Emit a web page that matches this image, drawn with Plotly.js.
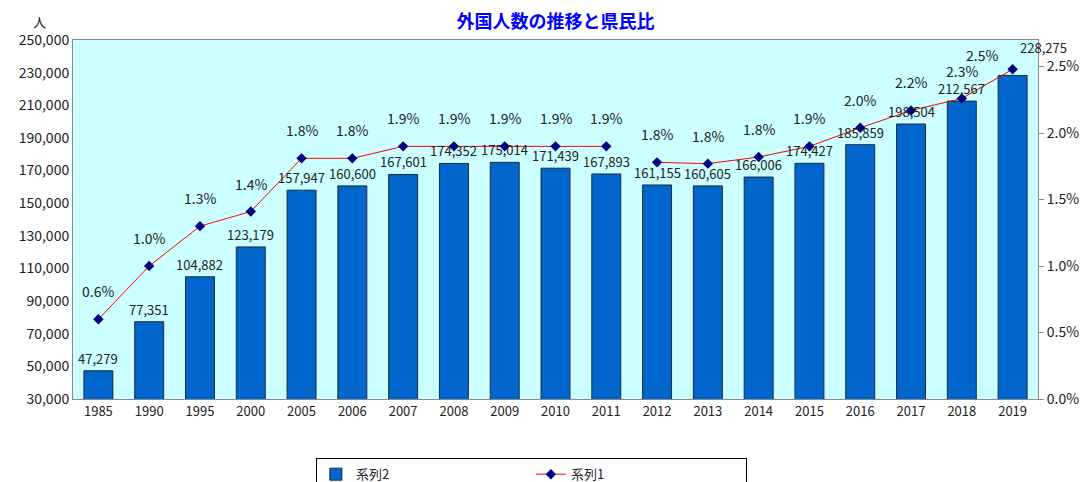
<!DOCTYPE html>
<html>
<head>
<meta charset="utf-8">
<script src="https://cdn.plot.ly/plotly-3.0.1.min.js"></script>
<style>html,body{margin:0;padding:0;background:#fff;}#chart{width:1083px;height:482px;}</style>
</head>
<body>
<div id="chart"></div>
<script>
const years = ['1985','1990','1995','2000','2005','2006','2007','2008','2009','2010','2011','2012','2013','2014','2015','2016','2017','2018','2019'];
const population = [47279,77351,104882,123179,157947,160600,167601,174352,175014,171439,167893,161155,160605,166006,174427,185859,198504,212567,228275];
const ratio = [0.0060,0.0100,0.0130,0.0141,0.0181,0.0181,0.0190,0.0190,0.0190,0.0190,0.0190,0.0178,0.0177,0.0182,0.0190,0.0204,0.0217,0.0226,0.0248];
const breakAfter = '2011';
const seriesBar = '系列2';
const seriesLine = '系列1';

const cut = years.indexOf(breakAfter) + 1;
const font = '"Noto Sans CJK JP", "DejaVu Sans", sans-serif';

const lineStyle = {color:'#FF0000', width:1};
const markerStyle = {color:'#000080', size:8, symbol:'diamond'};

const traces = [
  {
    type:'bar', x:years, y:population, name:seriesBar,
    marker:{color:'#0066CC', line:{color:'#1a2a3a', width:1}},
    hoverinfo:'x+y'
  },
  {
    type:'scatter', mode:'lines+markers', x:years.slice(0,cut), y:ratio.slice(0,cut),
    name:seriesLine, legendgroup:'l', yaxis:'y2',
    line:lineStyle, marker:markerStyle
  },
  {
    type:'scatter', mode:'lines+markers', x:years.slice(cut), y:ratio.slice(cut),
    name:seriesLine, legendgroup:'l', showlegend:false, yaxis:'y2',
    line:lineStyle, marker:markerStyle
  }
];

const last = years.length - 1;
const annotations = [];
years.forEach((yr, i) => {
  annotations.push({
    x: i, y: population[i], xref:'x', yref:'y', showarrow:false,
    text: population[i].toLocaleString('en-US'),
    yanchor:'bottom', yshift: i === last ? 16 : 1, xshift: i === last ? 31 : 0,
    font:{family:font, size:13, color:'#222'}
  });
  annotations.push({
    x: i, y: ratio[i], xref:'x', yref:'y2', showarrow:false,
    text: (ratio[i]*100).toFixed(1) + '%',
    yanchor:'middle', yshift: i === last ? 14 : 28, xshift: i === last ? -31 : 0,
    font:{family:font, size:14, color:'#222'}
  });
});
annotations.push({text:'人', xref:'paper', yref:'paper', x:-0.035, y:1.02, xanchor:'center', yanchor:'bottom',
                  showarrow:false, font:{family:font, size:13, color:'#222'}});

const layout = {
  width:1083, height:482,
  margin:{l:73, r:45, t:40, b:83, autoexpand:false},
  paper_bgcolor:'#ffffff',
  plot_bgcolor:'#CCFFFF',
  font:{family:font, color:'#222'},
  title:{text:'<b>外国人数の推移と県民比</b>', x:0.513, xanchor:'center', y:0.955, yanchor:'middle',
         font:{family:font, size:18, color:'#0000FF'}},
  bargap:0.43,
  showlegend:true,
  xaxis:{type:'category', range:[-0.5, years.length-0.5], autorange:false, showgrid:false, showline:true,
         linecolor:'#888', linewidth:1, mirror:true, ticks:'', tickfont:{size:13, color:'#222'}},
  yaxis:{range:[30000,250000], tickvals:[30000,50000,70000,90000,110000,130000,150000,170000,190000,210000,230000,250000],
         tickformat:',d', showgrid:false, showline:true, linecolor:'#888', linewidth:1, zeroline:false,
         tickfont:{size:14, color:'#222'}, ticks:''},
  yaxis2:{overlaying:'y', side:'right', range:[0,0.027], tickvals:[0,0.005,0.01,0.015,0.02,0.025],
          tickformat:'.1%', showgrid:false, showline:true, linecolor:'#888', zeroline:false,
          ticks:'outside', ticklen:5, tickcolor:'#888', tickfont:{size:14, color:'#222'}},
  legend:{orientation:'h', x:0.475, xanchor:'center', y:-0.165, yanchor:'top',
          bordercolor:'#000', borderwidth:1, bgcolor:'#fff', entrywidth:170,
          font:{size:13, color:'#222'}},
  annotations: annotations
};

Plotly.newPlot('chart', traces, layout, {displayModeBar:false});
</script>
</body>
</html>
